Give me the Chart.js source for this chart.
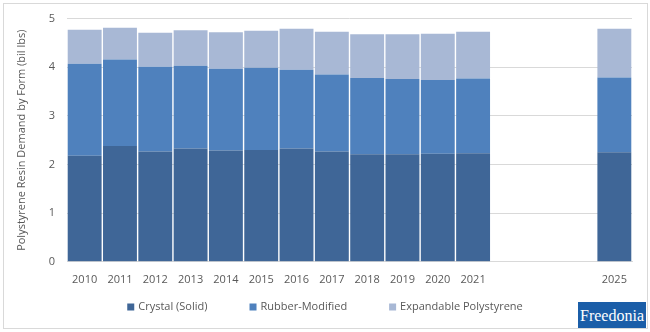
<!DOCTYPE html>
<html>
<head>
<meta charset="utf-8">
<script src="https://cdn.jsdelivr.net/npm/chart.js@4"></script>
<style>
  body { margin: 0; background: #fff; }
  #wrap { position: relative; width: 650px; height: 332px; }
  #frame { position: absolute; left: 3px; top: 3px; width: 643px; height: 324px; border: 1px solid #d9d9d9; }
  #logo { position: absolute; left: 578px; top: 302px; width: 68px; height: 26px; background: #1b5ea8;
          color: #fff; font-family: "Liberation Serif", "DejaVu Serif", serif; font-size: 16px;
          line-height: 28px; text-align: center; }
</style>
</head>
<body>
<div id="wrap">
  <div id="frame"></div>
  <canvas id="chart" width="650" height="332"></canvas>
  <div id="logo">Freedonia</div>
</div>
<script>
const years = ["2010", "2011", "2012", "2013", "2014", "2015", "2016", "2017", "2018", "2019", "2020", "2021", "", "", "", "2025"];
const crystal = [2.18, 2.38, 2.27, 2.33, 2.29, 2.30, 2.33, 2.27, 2.21, 2.21, 2.22, 2.23, null, null, null, 2.25];
const rubber = [1.89, 1.78, 1.74, 1.70, 1.68, 1.69, 1.62, 1.58, 1.57, 1.55, 1.52, 1.54, null, null, null, 1.54];
const expandable = [0.70, 0.65, 0.70, 0.73, 0.75, 0.76, 0.84, 0.88, 0.90, 0.92, 0.95, 0.96, null, null, null, 1.00];
const yTicks = [0, 1, 2, 3, 4, 5];

const font = "'Open Sans', 'Noto Sans', sans-serif";
const textColor = "#595959";

// legend drawn by hand so the items can sit far apart without eating vertical room
const bottomLegend = {
    id: "bottomLegend",
    afterDraw(chart) {
        const ctx = chart.ctx;
        const sets = chart.data.datasets;
        const box = 7, gapText = 4, gapItem = 42, y = 307;
        ctx.save();
        ctx.font = "11px " + font;
        ctx.textBaseline = "middle";
        const widths = sets.map(d => box + gapText + ctx.measureText(d.label).width);
        const total = widths.reduce((a, b) => a + b, 0) + gapItem * (sets.length - 1);
        let x = (chart.width - total) / 2;
        sets.forEach((d, i) => {
            ctx.fillStyle = d.backgroundColor;
            ctx.fillRect(x, y - box / 2, box, box);
            ctx.fillStyle = textColor;
            ctx.fillText(d.label, x + box + gapText, y);
            x += widths[i] + gapItem;
        });
        ctx.restore();
    }
};

new Chart(document.getElementById("chart"), {
    type: "bar",
    data: {
        labels: years,
        datasets: [
            { label: "Crystal (Solid)", data: crystal, backgroundColor: "#3f6697" },
            { label: "Rubber-Modified", data: rubber, backgroundColor: "#4f81bd" },
            { label: "Expandable Polystyrene", data: expandable, backgroundColor: "#a8b8d5" }
        ]
    },
    options: {
        responsive: false,
        animation: false,
        layout: { padding: { left: 15, right: 18, top: 10, bottom: 43 } },
        datasets: { bar: { categoryPercentage: 0.96, barPercentage: 1 } },
        scales: {
            x: {
                stacked: true,
                grid: { display: false },
                border: { color: "#d9d9d9" },
                ticks: { color: textColor, font: { family: font, size: 11 }, maxRotation: 0, autoSkip: false, padding: 3 }
            },
            y: {
                stacked: true,
                min: 0,
                max: 5,
                afterBuildTicks: axis => { axis.ticks = yTicks.map(v => ({ value: v })); },
                afterFit: axis => { axis.width = 52; },
                grid: { color: "#d9d9d9", drawTicks: false },
                border: { display: false },
                ticks: { color: textColor, font: { family: font, size: 11 }, padding: 12 },
                title: { display: true, text: "Polystyrene Resin Demand by Form (bil lbs)", color: textColor,
                         font: { family: font, size: 11 }, padding: 0 }
            }
        },
        plugins: {
            legend: { display: false },
            tooltip: { enabled: false }
        }
    },
    plugins: [bottomLegend]
});
</script>
</body>
</html>
